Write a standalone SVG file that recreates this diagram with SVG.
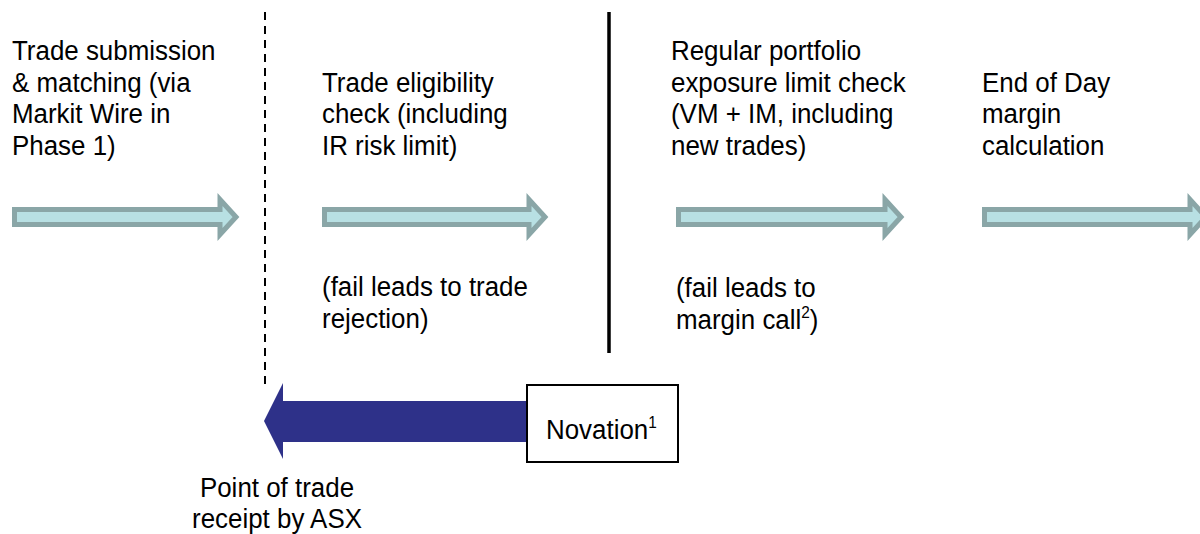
<svg xmlns="http://www.w3.org/2000/svg" width="1200" height="534" viewBox="0 0 1200 534">
  <style>
    .lbl { font-family: "Liberation Sans", Arial, sans-serif; font-size: 27px; fill: #000;
           transform-box: fill-box; transform-origin: 0 0; transform: scaleX(0.96); }
    .mid { text-anchor: middle; transform-origin: 50% 0; }
    .sup { font-size: 16px; }
    .step { fill: #b8e0e3; stroke: #8aa6a7; stroke-width: 5; stroke-linejoin: miter; }
  </style>
  <rect width="1200" height="534" fill="#fff"/>

  <!-- phase separators -->
  <g id="separators">
    <line x1="265" y1="12" x2="265" y2="386" stroke="#000" stroke-width="2" stroke-dasharray="8,6"/>
    <line x1="609" y1="12" x2="609" y2="353" stroke="#000" stroke-width="3.5"/>
  </g>

  <!-- process step arrows -->
  <g id="connectors">
    <polygon class="step" points="14.5,209.5 220,209.5 220,199.5 236,217 220,234.5 220,224.5 14.5,224.5"/>
    <polygon class="step" points="324.5,209.5 529,209.5 529,199.5 545,217 529,234.5 529,224.5 324.5,224.5"/>
    <polygon class="step" points="678.5,209.5 885,209.5 885,199.5 901,217 885,234.5 885,224.5 678.5,224.5"/>
    <polygon class="step" points="984.5,209.5 1190,209.5 1190,199.5 1206,217 1190,234.5 1190,224.5 984.5,224.5"/>
    <!-- novation arrow back to point of receipt -->
    <polygon points="527,401 283,401 283,383 264,421 283,459 283,442 527,442" fill="#2e3189"/>
  </g>

  <g id="step-submission">
    <text class="lbl" x="12" y="60">Trade submission</text>
    <text class="lbl" x="12" y="92">&amp; matching (via</text>
    <text class="lbl" x="12" y="123">Markit Wire in</text>
    <text class="lbl" x="12" y="155">Phase 1)</text>
  </g>

  <g id="step-eligibility">
    <text class="lbl" x="322" y="92">Trade eligibility</text>
    <text class="lbl" x="322" y="123">check (including</text>
    <text class="lbl" x="322" y="155">IR risk limit)</text>
    <text class="lbl" x="322" y="296">(fail leads to trade</text>
    <text class="lbl" x="322" y="328">rejection)</text>
  </g>

  <g id="step-exposure">
    <text class="lbl" x="671" y="60">Regular portfolio</text>
    <text class="lbl" x="671" y="92">exposure limit check</text>
    <text class="lbl" x="671" y="123">(VM + IM, including</text>
    <text class="lbl" x="671" y="155">new trades)</text>
    <text class="lbl" x="676" y="297">(fail leads to</text>
    <text class="lbl" x="676" y="329">margin call<tspan class="sup" dy="-11">2</tspan><tspan dy="11">)</tspan></text>
  </g>

  <g id="step-eod">
    <text class="lbl" x="982" y="92">End of Day</text>
    <text class="lbl" x="982" y="123">margin</text>
    <text class="lbl" x="982" y="155">calculation</text>
  </g>

  <g id="novation">
    <rect x="527" y="385" width="151" height="77" fill="#fff" stroke="#000" stroke-width="2"/>
    <text class="lbl" x="546" y="439">Novation<tspan class="sup" dy="-11">1</tspan></text>
  </g>

  <g id="receipt-point">
    <text class="lbl mid" x="277" y="497">Point of trade</text>
    <text class="lbl mid" x="277" y="528">receipt by ASX</text>
  </g>
</svg>
